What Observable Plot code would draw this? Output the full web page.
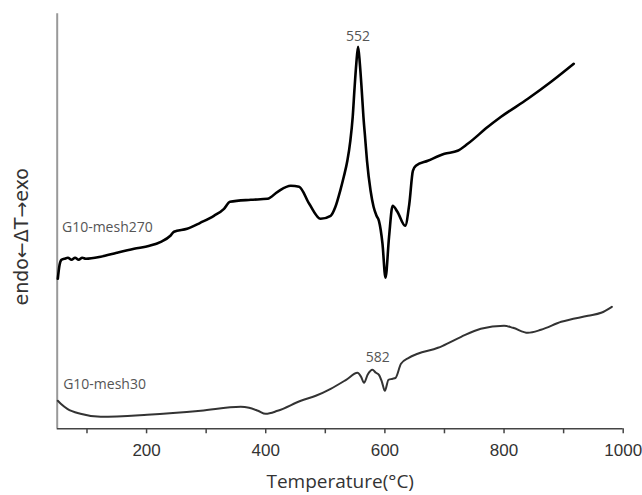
<!DOCTYPE html>
<html>
<head>
<meta charset="utf-8">
<script src="https://cdn.jsdelivr.net/npm/d3@7"></script>
<script src="https://cdn.jsdelivr.net/npm/@observablehq/plot@0.6"></script>
<style>
  html, body { margin: 0; padding: 0; background: #fff; }
  #chart { width: 642px; height: 495px; }
</style>
</head>
<body>
<div id="chart"></div>
<script>
// G10-mesh270 DTA curve (temperature °C, signal a.u.)
const mesh270T = [51,54,57,62,68,74,80,86,92,98,123,150,179,205,224,240,246,268,290,313,330,340,375,403,420,442,456,473,492,509,517,525,531,537,542,546,549,552,555,558,561,564,567,570,576,581,586,590,596,601,607,613,621,634,641,647,652,672,700,722,739,773,795,840,879,917];
const mesh270V = [150,164,169,170,171,169,171,169,171,170,172,176,180,183,187,193,197,200,206,213,220,227,229,230,237,243,242,225,210,213,222,238,252,268,288,312,340,365,382,365,340,312,290,268,238,222,213,208,185,151,192,223,217,203,225,258,263,268,275,278,285,302,312,330,347,365];

// G10-mesh30 DTA curve
const mesh30T = [51,56,67,89,123,201,291,358,372,387,400,420,459,484,509,535,554,560,565,571,579,585,590,595,600,606,613,618,627,640,655,689,697,728,761,800,815,840,862,896,941,963,981];
const mesh30V = [28,25,20,15,12,14,18,22,21,18,15,18,28,33,40,49,56,52,46,54,59,56,54,47,38,49,50,51,65,71,75,81,83,92,100,103,101,96,99,107,113,116,122];

const xTicks = [100,200,300,400,500,600,700,800,900,1000];
const xTickLabels = [200,400,600,800,1000];

const seriesNames = ["G10-mesh270","G10-mesh30"];
const peakLabels = ["552","582"];
const xTitle = "Temperature(°C)";
const yTitle = "endo←ΔT→exo";

const curve270 = mesh270T.map((t,i)=>({t, v: mesh270V[i]}));
const curve30 = mesh30T.map((t,i)=>({t, v: mesh30V[i]}));

const nameLabels = [
  {t: 58, v: 201, text: seriesNames[0]},
  {t: 60, v: 44, text: seriesNames[1]}
];
const peakLabelPos = [
  {t: 555, v: 392, text: peakLabels[0]},
  {t: 588, v: 71, text: peakLabels[1]}
];

const chart = Plot.plot({
  width: 642,
  height: 495,
  marginLeft: 56.7,
  marginRight: 19.3,
  marginTop: 13.3,
  marginBottom: 66.7,
  style: {background: "#fff"},
  x: {domain: [50, 1000]},
  y: {domain: [0, 415], axis: null},
  marks: [
    Plot.ruleX([50], {stroke: "#999", strokeWidth: 2}),
    Plot.ruleY([0], {stroke: "#444", strokeWidth: 1.5}),
    Plot.axisX({
      ticks: xTicks,
      tickFormat: d => xTickLabels.includes(d) ? String(d) : "",
      tickSize: 5,
      tickPadding: 10,
      stroke: "#444",
      strokeWidth: 1.5,
      fill: "#333",
      fontSize: 17,
      fontFamily: "Liberation Sans, Arial, sans-serif",
      label: null
    }),
    Plot.line(curve30, {x: "t", y: "v", stroke: "#333", strokeWidth: 2, curve: "monotone-x"}),
    Plot.line(curve270, {x: "t", y: "v", stroke: "#000", strokeWidth: 2.6, curve: "monotone-x"}),
    Plot.text(nameLabels, {
      x: "t", y: "v", text: "text", textAnchor: "start",
      fill: "#555", fontSize: 14, fontFamily: "Open Sans, sans-serif"
    }),
    Plot.text(peakLabelPos, {
      x: "t", y: "v", text: "text", textAnchor: "middle",
      fill: "#555", fontSize: 14, fontFamily: "Open Sans, sans-serif"
    }),
    Plot.text([xTitle], {
      frameAnchor: "bottom", dy: 59, text: d => d,
      fill: "#333", fontSize: 19, fontFamily: "Open Sans, sans-serif"
    }),
    Plot.text([{t: -10, v: 192, text: yTitle}], {
      x: "t", y: "v", text: "text", rotate: -90,
      fill: "#333", fontSize: 19, fontFamily: "DejaVu Sans, sans-serif"
    })
  ]
});
document.getElementById("chart").appendChild(chart);
</script>
</body>
</html>
